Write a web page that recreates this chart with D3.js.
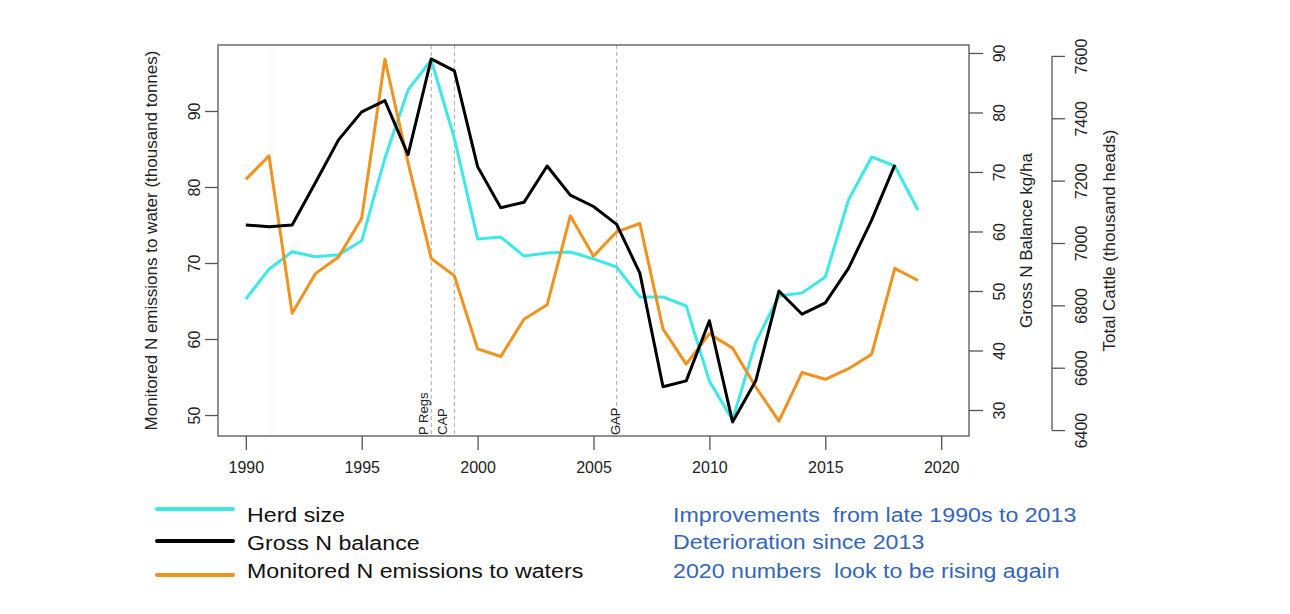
<!DOCTYPE html>
<html lang="en">
<head>
<meta charset="UTF-8">
<title>Herd size, N balance and N emissions</title>
<style>
html, body { margin: 0; padding: 0; background: #fff; }
body { font-family: 'Liberation Sans', Arial, sans-serif; }
.axis text { font-size: 16px; fill: #222; font-family: 'Liberation Sans', Arial, sans-serif; }
.axis line { stroke: #555; stroke-width: 1.3; }
.title { font-size: 17px; fill: #222; }
.series { fill: none; stroke-width: 3; stroke-linejoin: round; }
.event { stroke: #aaa; stroke-width: 1; stroke-dasharray: 4,3; }
.event-label { font-size: 13px; fill: #222; }
.legend text { font-size: 20px; fill: #111; }
.notes text { font-size: 20px; fill: #3566b8; white-space: pre; }
</style>
<script src="https://cdnjs.cloudflare.com/ajax/libs/d3/7.8.5/d3.min.js"></script>
</head>
<body>
<svg width="1290" height="614"></svg>
<script>
// values
const years = [1990, 1991, 1992, 1993, 1994, 1995, 1996, 1997, 1998, 1999,
  2000, 2001, 2002, 2003, 2004, 2005, 2006, 2007, 2008, 2009,
  2010, 2011, 2012, 2013, 2014, 2015, 2016, 2017, 2018, 2019];

// total cattle, thousand heads
const herdSize = [6820, 6916, 6972, 6956, 6962, 7007, 7272, 7491, 7587, 7335,
  7013, 7019, 6958, 6968, 6971, 6949, 6923, 6827, 6827, 6798,
  6557, 6432, 6682, 6830, 6840, 6891, 7138, 7276, 7247, 7106];

// gross N balance kg/ha (1990-2018)
const grossN = [61.1, 60.8, 61.1, 68.2, 75.4, 80.1, 82.0, 72.9, 89.0, 87.0,
  70.9, 64.0, 64.9, 71.0, 66.1, 64.2, 61.2, 53.0, 33.9, 34.9,
  45.0, 28.0, 34.9, 50.0, 46.1, 48.0, 53.8, 61.9, 71.2];

// monitored N emissions to water, thousand tonnes
const emissions = [81.0, 84.1, 63.4, 68.6, 70.8, 75.9, 96.8, 83.2, 70.6, 68.3,
  58.7, 57.7, 62.6, 64.5, 76.2, 70.9, 74.1, 75.2, 61.3, 56.7,
  60.7, 58.8, 53.7, 49.2, 55.6, 54.7, 56.1, 58.0, 69.3, 67.7];

const xTicks = [1990, 1995, 2000, 2005, 2010, 2015, 2020];
const leftTicks = [50, 60, 70, 80, 90];
const grossTicks = [30, 40, 50, 60, 70, 80, 90];
const cattleTicks = [6400, 6600, 6800, 7000, 7200, 7400, 7600];

const events = [
  { year: 1998, label: 'P Regs' },
  { year: 1999, label: 'CAP' },
  { year: 2006, label: 'GAP' }
];

const legendItems = [
  { label: 'Herd size', color: '#3ee8e8' },
  { label: 'Gross N balance', color: '#000000' },
  { label: 'Monitored N emissions to waters', color: '#f0921e' }
];

const notes = [
  'Improvements  from late 1990s to 2013',
  'Deterioration since 2013',
  '2020 numbers  look to be rising again'
];

// plot box
const boxL = 218, boxR = 969, boxT = 45, boxB = 436;

const svg = d3.select('svg');

const x = d3.scaleLinear().domain([1988.8, 2021.2]).range([boxL, boxR]);
const yLeft = d3.scaleLinear().domain([47.24, 98.68]).range([boxB, boxT]);
const yGross = d3.scaleLinear().domain([25.63, 91.34]).range([boxB, boxT]);
const yCattle = d3.scaleLinear().domain([6381, 7635]).range([boxB, boxT]);

// faint line at 1991
svg.append('line')
  .attr('x1', x(1991) + 3).attr('x2', x(1991) + 3)
  .attr('y1', boxT).attr('y2', boxB)
  .attr('stroke', '#f2f2f2').attr('stroke-width', 1);

// event lines
svg.selectAll('.event')
  .data(events)
  .enter()
  .append('line')
  .attr('class', 'event')
  .attr('x1', d => x(d.year)).attr('x2', d => x(d.year))
  .attr('y1', boxT).attr('y2', boxB);

const labelShift = { 'P Regs': -3, 'CAP': -7, 'GAP': 3 };
svg.selectAll('.event-label')
  .data(events)
  .enter()
  .append('text')
  .attr('class', 'event-label')
  .attr('transform', d => 'translate(' + (x(d.year) + labelShift[d.label]) + ',' + (boxB - 1) + ') rotate(-90)')
  .attr('text-anchor', 'start')
  .text(d => d.label);

// series
const herdLine = d3.line().x((d, i) => x(years[i])).y(d => yCattle(d));
const grossLine = d3.line().x((d, i) => x(years[i])).y(d => yGross(d));
const emisLine = d3.line().x((d, i) => x(years[i])).y(d => yLeft(d));

svg.append('path').datum(herdSize).attr('class', 'series')
  .attr('stroke', legendItems[0].color).attr('d', herdLine);
svg.append('path').datum(emissions).attr('class', 'series')
  .attr('stroke', legendItems[2].color).attr('d', emisLine);
svg.append('path').datum(grossN).attr('class', 'series')
  .attr('stroke', legendItems[1].color).attr('d', grossLine);

// box
svg.append('rect')
  .attr('x', boxL).attr('y', boxT)
  .attr('width', boxR - boxL).attr('height', boxB - boxT)
  .attr('fill', 'none').attr('stroke', '#555').attr('stroke-width', 1.3);

// x axis
const gx = svg.append('g').attr('class', 'axis')
  .attr('transform', 'translate(0,' + boxB + ')')
  .call(d3.axisBottom(x).tickValues(xTicks).tickSize(14).tickFormat(d3.format('d')));
gx.select('.domain').remove();
gx.selectAll('text').attr('y', 37).attr('dy', 0);

// rotated tick labels helper
function rotateLabels(g, offset) {
  g.select('.domain').remove();
  g.selectAll('text')
    .attr('transform', 'rotate(-90)')
    .attr('x', 0).attr('y', offset).attr('dy', 0)
    .attr('text-anchor', 'middle');
}

// left axis
const gl = svg.append('g').attr('class', 'axis')
  .attr('transform', 'translate(' + boxL + ',0)')
  .call(d3.axisLeft(yLeft).tickValues(leftTicks).tickSize(13));
rotateLabels(gl, -18);

// gross N axis
const gg = svg.append('g').attr('class', 'axis')
  .attr('transform', 'translate(' + boxR + ',0)')
  .call(d3.axisRight(yGross).tickValues(grossTicks).tickSize(14));
rotateLabels(gg, 36);

// cattle axis
const cattleX = 1052;
const gc = svg.append('g').attr('class', 'axis')
  .attr('transform', 'translate(' + cattleX + ',0)')
  .call(d3.axisRight(yCattle).tickValues(cattleTicks).tickSize(13).tickFormat(d3.format('d')));
rotateLabels(gc, 35);
gc.append('line')
  .attr('x1', 0).attr('x2', 0)
  .attr('y1', yCattle(cattleTicks[0]))
  .attr('y2', yCattle(cattleTicks[cattleTicks.length - 1]));

// axis titles
const midY = (boxT + boxB) / 2;
[
  { x: 157, text: 'Monitored N emissions to water (thousand tonnes)' },
  { x: 1032, text: 'Gross N Balance kg/ha' },
  { x: 1115, text: 'Total Cattle (thousand heads)' }
].forEach(t => {
  svg.append('text').attr('class', 'title')
    .attr('transform', 'translate(' + t.x + ',' + midY + ') rotate(-90)')
    .attr('text-anchor', 'middle')
    .text(t.text);
});

// legend (text in the original is a little wider than plain Arial)
const legend = svg.append('g').attr('class', 'legend');
const lg = legend.selectAll('g')
  .data(legendItems)
  .enter()
  .append('g')
  .attr('transform', (d, i) => 'translate(0,' + [509, 541, 575][i] + ')');
lg.append('line')
  .attr('x1', 157).attr('x2', 233)
  .attr('stroke', d => d.color).attr('stroke-width', 4)
  .attr('stroke-linecap', 'round');
lg.append('text')
  .attr('transform', (d, i) => 'translate(247,' + [13, 9, 3][i] + ') scale(1.16,1)')
  .text(d => d.label);

// notes
svg.append('g').attr('class', 'notes')
  .selectAll('text')
  .data(notes)
  .enter()
  .append('text')
  .attr('transform', (d, i) => 'translate(673,' + [522, 549, 578][i] + ') scale(1.16,1)')
  .text(d => d);
</script>
</body>
</html>
